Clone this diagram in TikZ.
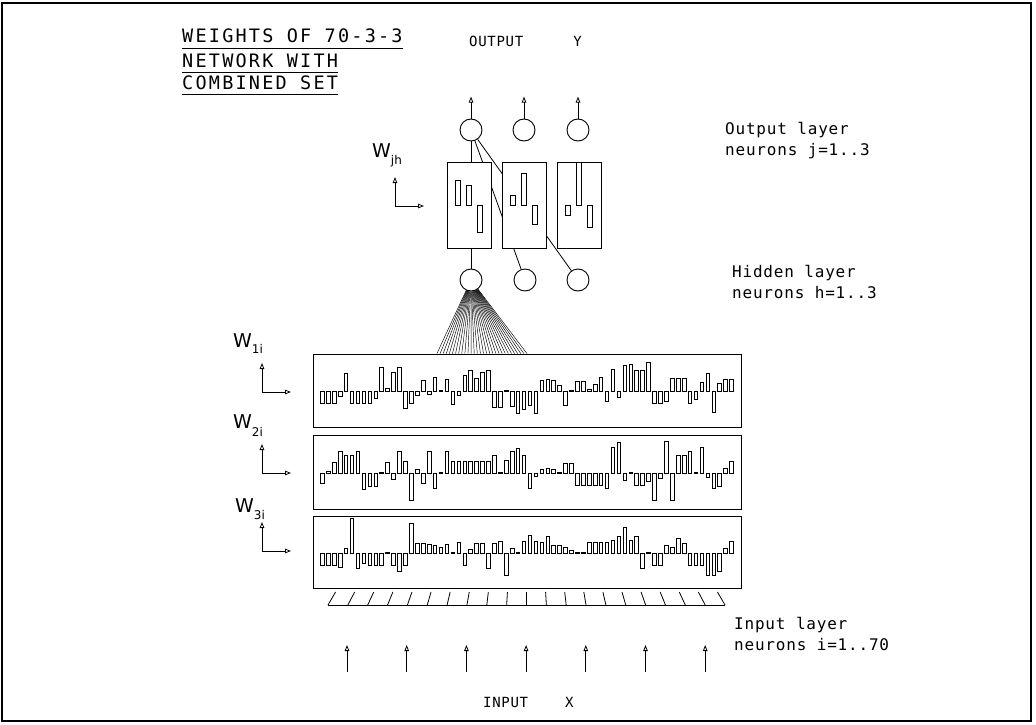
\documentclass[tikz,border=0pt]{standalone}
\usepackage{fontspec}
\newfontfamily\plotfont{DejaVu Sans Mono}[LetterSpace=12]
\newfontfamily\labelfont{DejaVu Sans Mono}[LetterSpace=5]
\newfontfamily\wfont{DejaVu Sans}
\newcommand\wsubfont{\wfont\fontsize{12}{12}\selectfont}
\usetikzlibrary{arrows.meta,positioning,calc}
% one row of 70 input weights, bars hang from the centre line of the box
\newcommand\weightrow[2]{%
  \foreach \wt [count=\i] in {#2}
    \draw[bar] ($(#1.west)+({8+5.93*(\i-1)},1)$) rectangle ++(3.6,{-1*(\wt)});}

\begin{document}
\begin{tikzpicture}[x=1pt,y=-1pt,
  neuron/.style={circle,draw,fill=white,minimum size=22pt,inner sep=0pt,line width=0.9pt},
  wbox/.style={draw,fill=white,inner sep=0pt,line width=0.9pt},
  bar/.style={draw,line width=0.75pt},
  tip/.style={-{Triangle[open,length=6pt,width=4.5pt]},line width=0.8pt},
  link/.style={line width=0.8pt},
  fan/.style={line width=0.45pt},
  heading/.style={font=\plotfont\fontsize{18.5}{20}\selectfont,anchor=base west,inner sep=0pt},
  caps/.style={font=\labelfont\fontsize{14}{16}\selectfont,anchor=base west,inner sep=0pt},
  layer/.style={font=\labelfont\fontsize{16}{21}\selectfont,anchor=north west,inner sep=0pt,align=left},
  wlabel/.style={font=\wfont\fontsize{19}{19}\selectfont,anchor=base west,inner sep=0pt}]
\useasboundingbox (0,0) rectangle (1036,725);
\draw[line width=1.5pt] (2,3) rectangle (1031,721);

% output and hidden neurons
\node[neuron] (o1) at (471,130) {};
\node[neuron] (o2) at (524,130) {};
\node[neuron] (o3) at (578,130) {};
\node[neuron] (h1) at (471,280) {};
\node[neuron] (h2) at (525,280) {};
\node[neuron] (h3) at (578,280) {};
\draw[link] (o1) -- (h1);
\draw[link] (o1) -- (h2);
\draw[link] (o1) -- (h3);

% hidden-to-output weights
\node[wbox,minimum width=44pt,minimum height=86pt] (bx1) at (469,205) {};
\node[wbox,minimum width=44pt,minimum height=86pt] (bx2) at (524,205) {};
\node[wbox,minimum width=44pt,minimum height=86pt] (bx3) at (579,205) {};
\foreach \b/\wa/\wb/\wc in {1/25/20/-27,2/10/32/-19,3/-10/43/-22}
  \foreach \wt [count=\k] in {\wa,\wb,\wc}
    \draw[bar] ($(bx\b.center)+({11*\k-25},0)$) rectangle ++(5,{-1*(\wt)});
\foreach \n in {o1,o2,o3}
  \draw[tip] (\n.north) -- ++(0,-22);

% input-to-hidden weights
\node[wbox,minimum width=428pt,minimum height=73pt] (w1) at (527,390.5) {};
\node[wbox,minimum width=428pt,minimum height=74pt] (w2) at (527,472) {};
\node[wbox,minimum width=428pt,minimum height=72pt] (w3) at (527,552) {};
\weightrow{w1}{-12,-12,-12,-5,18,-12,-12,-12,-12,-7,
  24,3,19,24,-17,-12,-4,11,-3,14,
  1,12,-13,-4,16,21,13,19,21,-16,
  -16,1,-15,-22,-18,-14,-22,11,12,11,
  6,-14,1,10,10,2,7,14,-10,22,
  -6,26,27,21,21,29,-12,-12,-10,13,
  13,13,-12,-8,9,18,-21,8,12,12}
\weightrow{w2}{-10,2,11,22,18,18,22,-16,-13,-13,
  1,11,-6,22,12,-27,4,-10,22,-15,
  1,22,12,12,12,12,12,12,12,18,
  1,13,22,25,18,-15,-3,4,5,4,
  1,10,10,-12,-12,-12,-12,-12,-15,26,
  31,-7,1,-12,-12,-8,-27,-5,32,-27,
  18,18,22,1,26,-4,-15,-13,5,12}
\weightrow{w3}{-12,-12,-12,-14,5,35,-15,-10,-12,-12,
  -12,1,-12,-18,-12,30,10,10,9,8,
  6,9,1,11,-12,4,10,10,-15,10,
  12,-22,5,1,12,18,12,11,17,8,
  8,6,3,1,1,11,11,11,11,13,
  17,26,13,17,-15,1,-12,-12,8,6,
  15,10,-12,-12,-12,-22,-22,-18,5,12}
\foreach \k in {0,...,29}
  \draw[fan] (h1) -- ($(w1.north west)!{0.29+0.21*\k/29}!(w1.north east)$);

% input neurons
\coordinate (inl) at (328,605);
\coordinate (inr) at (725,605);
\draw[link] (inl) -- (inr);
\foreach \k in {0,...,20}{
  \pgfmathsetmacro\xb{328+19.85*\k}
  \draw[link] ({\xb-0.038*(\xb-527)},592) -- (\xb,605);
}
\foreach \k in {0,...,6}
  \draw[tip] ({347+59.7*\k},672) -- ++(0,-27);

% labels
\node[heading] (t1) at (182,43) {WEIGHTS OF 70-3-3};
\node[heading] (t2) at (182,67) {NETWORK WITH};
\node[heading] (t3) at (182,89) {COMBINED SET};
\foreach \t in {t1,t2,t3}
  \draw[link] ([yshift=-5pt]\t.base west) -- ([yshift=-5pt]\t.base east);
\node[caps] (outy) at (469,47) {OUTPUT\hspace{50pt}Y};
\node[caps] (inx) at (483,707) {INPUT\hspace{37pt}X};
\node[layer] (outlayer) at (725,122) {Output layer\\neurons j=1..3};
\node[layer] (hidlayer) at (732,265) {Hidden layer\\neurons h=1..3};
\node[layer] (inlayer) at (734,617) {Input layer\\neurons i=1..70};
\node[wlabel] (wjh) at (372,157) {W\raisebox{-7pt}{\wsubfont jh}};
\node[wlabel] (w1i) at (233,347) {W\raisebox{-6pt}{\wsubfont 1i}};
\node[wlabel] (w2i) at (233,428) {W\raisebox{-8pt}{\wsubfont 2i}};
\node[wlabel] (w3i) at (235,512) {W\raisebox{-7pt}{\wsubfont 3i}};
\foreach \name/\x/\y in {ajh/395/206,a1/262/392,a2/262/473,a3/262/551}{
  \coordinate (\name) at (\x,\y);
  \draw[tip] (\name) -- ++(0,-29);
  \draw[tip] (\name) -- ++(29,0);
}
\end{tikzpicture}
\end{document}
